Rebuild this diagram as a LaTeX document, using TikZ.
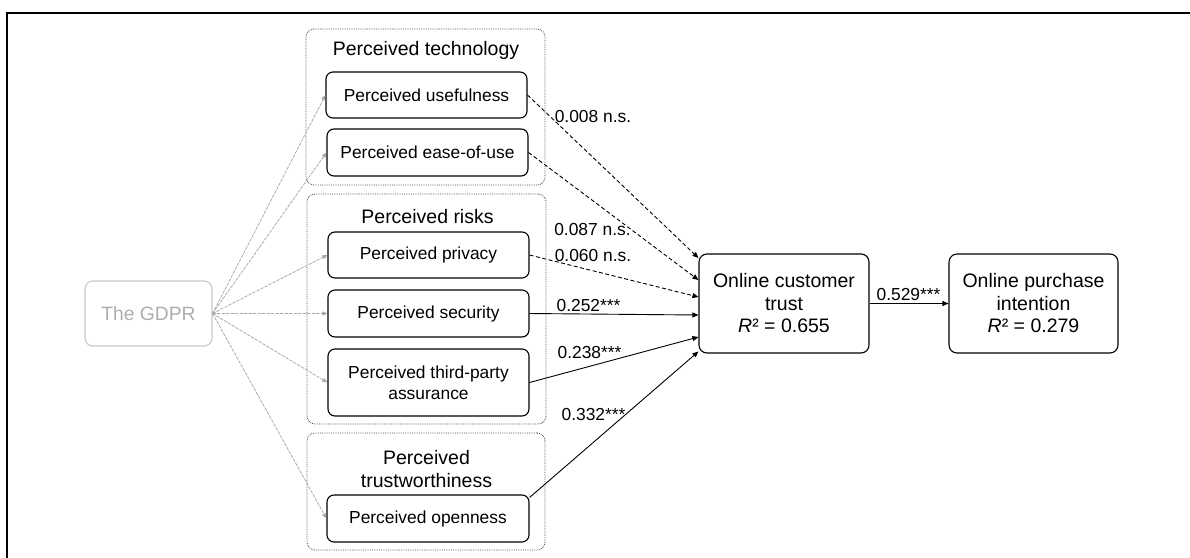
\documentclass[tikz,border=0pt]{standalone}
\usepackage{fontspec}
\setmainfont{Liberation Sans}
\usetikzlibrary{arrows.meta,calc}
\begin{document}
\begin{tikzpicture}[x=1pt,y=-1pt,
  box/.style={draw=black, line width=1.1pt, rounded corners=7pt, minimum width=201pt,
    minimum height=46pt, align=center, inner sep=0pt, font=\fontsize{17.4}{21}\selectfont},
  bigbox/.style={draw=black, line width=1.1pt, rounded corners=8pt, minimum width=170pt,
    minimum height=99pt, align=center, inner sep=0pt, font=\fontsize{19.5}{22.5}\selectfont},
  gdprbox/.style={draw=black!22, text=black!32, line width=1.1pt, rounded corners=8pt,
    minimum width=127pt, minimum height=65pt, inner sep=0pt, font=\fontsize{19.3}{22}\selectfont},
  group/.style={draw=black!70, densely dotted, line width=0.8pt, rounded corners=8pt, inner sep=0pt},
  gtitle/.style={font=\fontsize{19.5}{22.5}\selectfont, align=center, inner sep=0pt},
  coef/.style={font=\fontsize{17.4}{20}\selectfont, inner sep=0pt},
  sig/.style={-{Triangle[length=6pt,width=5pt]}, line width=0.9pt, draw=black},
  ns/.style={sig, dash pattern=on 4pt off 2.5pt},
  cause/.style={-{Triangle[length=5pt,width=4pt]}, draw=black!35, line width=0.7pt,
    dash pattern=on 3pt off 1.5pt, fill=black!35}
]
\useasboundingbox (0,0) rectangle (1190,557);

% outer frame (left and top edges)
\draw[line width=2.7pt] (7,562) -- (7,13) -- (1195,13);

% construct groups
\node[group, minimum width=239pt, minimum height=156pt] (gtech) at (425.5,107) {};
\node[group, minimum width=239pt, minimum height=230pt] (grisk) at (426.5,309) {};
\node[group, minimum width=238pt, minimum height=117pt] (gtrust) at (426,491.5) {};

\node[gtitle] (ttech) at (426,50) {Perceived technology};
\node[gtitle] (trisk) at (427.5,217) {Perceived risks};
\node[gtitle] (ttrust) at (426.5,469) {Perceived\\trustworthiness};

% first-order constructs
\node[box] (useful) at (426.5,95) {Perceived usefulness};
\node[box, minimum height=47pt] (ease) at (427.5,152.5) {Perceived ease-of-use};
\node[box] (privacy) at (428.5,255) {Perceived privacy};
\node[box, minimum height=47pt] (security) at (428.5,313.5) {Perceived security};
\node[box, minimum height=67pt] (third) at (428.5,382.5) {Perceived third-party\\assurance};
\node[box, minimum width=202pt, minimum height=47pt] (open) at (428,518.5) {Perceived openness};

% regulation and outcomes
\node[gdprbox] (gdpr) at (148.5,313.5) {The GDPR};
\node[bigbox] (trust) at (784,303.5) {Online customer\\trust\\\textit{R}² = 0.655};
\node[bigbox, minimum width=169pt] (purchase) at (1033.5,303.5) {Online purchase\\intention\\\textit{R}² = 0.279};

% GDPR influences
\foreach \t in {useful,ease,privacy,security,third,open}
  \draw[cause] (gdpr.east) -- (\t.west);

% arrival points on the trust box
\coordinate (in1) at ($(trust.west)+(0,-45.5)$);
\coordinate (in2) at ($(trust.west)+(0,-23.5)$);
\coordinate (in3) at ($(trust.west)+(0,-6.5)$);
\coordinate (in4) at ($(trust.west)+(0,11.5)$);
\coordinate (in5) at ($(trust.west)+(0,33.5)$);
\coordinate (in6) at ($(trust.west)+(0,48)$);
\coordinate (openout) at ($(open.east)+(0,-21)$);

% structural paths
\draw[ns] (useful.east) -- (in1);
\draw[ns] (ease.east) -- (in2);
\draw[ns] (privacy.east) -- (in3);
\draw[sig] (security.east) -- (in4);
\draw[sig] (third.east) -- (in5);
\draw[sig] (openout) -- (in6);
\draw[sig] (trust.east) -- (purchase.west);

% path coefficients
\node[coef] (c1) at (593,117) {0.008 n.s.};
\node[coef] (c2) at (592.5,230) {0.087 n.s.};
\node[coef] (c3) at (593,256) {0.060 n.s.};
\node[coef] (c4) at (588.5,306) {0.252***};
\node[coef] (c5) at (589.5,353) {0.238***};
\node[coef] (c6) at (593.5,415) {0.332***};
\node[coef] (c7) at (908.5,295) {0.529***};
\end{tikzpicture}
\end{document}
